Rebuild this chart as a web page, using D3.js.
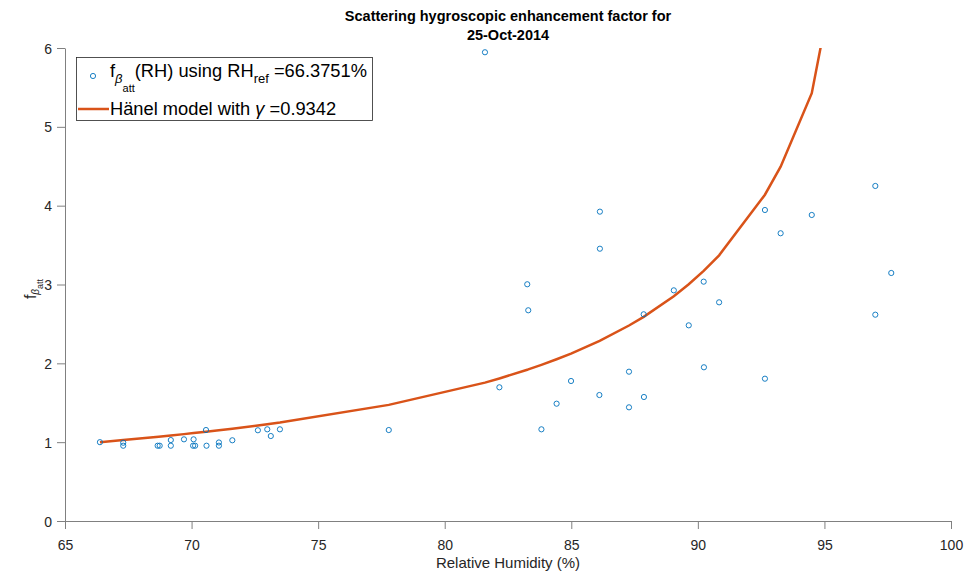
<!DOCTYPE html>
<html><head><meta charset="utf-8">
<script src="https://cdn.jsdelivr.net/npm/d3@7"></script>
<style>
body{margin:0;background:#fff;}
text{font-family:"Liberation Sans",Arial,sans-serif;}
</style></head>
<body><svg id="c" width="967" height="574"></svg>
<script>
// Measured data: relative humidity (%) and enhancement factor f_beta_att
const rh = [66.38, 67.30, 67.30, 68.66, 68.74, 69.18, 69.18, 69.70, 70.08, 70.06, 70.14, 70.57, 70.59, 71.08, 71.08, 71.61,
  72.62, 72.99, 73.13, 73.49, 77.79, 81.59, 82.16, 83.26, 83.30, 83.82, 84.42, 84.99, 86.13, 86.13, 86.11,
  87.28, 87.28, 87.86, 87.87, 89.05, 89.64, 90.23, 90.24, 90.84, 92.65, 92.65, 93.27, 94.50, 97.01, 97.01, 97.64];
const fb = [1.00, 0.993, 0.955, 0.955, 0.955, 1.027, 0.955, 1.036, 1.036, 0.955, 0.955, 1.154, 0.955, 0.996, 0.955, 1.024,
  1.151, 1.163, 1.078, 1.163, 1.154, 5.946, 1.696, 3.003, 2.673, 1.163, 1.488, 1.776, 3.924, 3.454, 1.598,
  1.894, 1.442, 2.622, 1.573, 2.926, 2.482, 3.036, 1.950, 2.774, 3.945, 1.805, 3.650, 3.882, 4.250, 2.617, 3.146];
// Hänel model curve (evaluated at the sorted measurement RH values)
const modelRH = [66.38, 67.30, 68.70, 69.18, 69.70, 70.08, 70.57, 71.08, 71.61, 72.62, 72.99, 73.13, 73.49, 77.79,
  81.59, 82.16, 83.26, 83.30, 83.82, 84.42, 84.99, 86.12, 87.28, 87.86, 89.05, 89.64, 90.23, 90.84, 92.65, 93.27,
  94.50, 97.01, 97.64];
const modelF = [1.000, 1.026, 1.069, 1.085, 1.102, 1.115, 1.132, 1.151, 1.171, 1.212, 1.227, 1.233, 1.249, 1.473,
  1.755, 1.808, 1.918, 1.923, 1.981, 2.052, 2.124, 2.285, 2.480, 2.590, 2.852, 3.003, 3.173, 3.370, 4.139, 4.494,
  5.427, 9.590, 11.96];
const xTicks = [65, 70, 75, 80, 85, 90, 95, 100];
const yTicks = [0, 1, 2, 3, 4, 5, 6];

const svg = d3.select("#c");
const L = 65, R = 951, T = 48, B = 521;
const x = d3.scaleLinear().domain([65, 100]).range([L, R]);
const y = d3.scaleLinear().domain([0, 6]).range([B, T]);
const axCol = "#262626";

svg.append("defs").append("clipPath").attr("id", "clip")
  .append("rect").attr("x", L).attr("y", T).attr("width", R - L).attr("height", B - T);

// axes
const xa = svg.append("g").attr("transform", `translate(0,${B})`)
  .call(d3.axisBottom(x).tickValues(xTicks).tickSize(8).tickSizeOuter(0).tickFormat(d3.format("d")));
const ya = svg.append("g").attr("transform", `translate(${L},0)`)
  .call(d3.axisLeft(y).tickValues(yTicks).tickSize(8).tickSizeOuter(0).tickFormat(d3.format("d")));
[xa, ya].forEach(g => {
  g.select(".domain").attr("stroke", "#808080").attr("stroke-width", 1);
  g.selectAll(".tick line").attr("stroke", "#808080");
  g.selectAll(".tick text").attr("fill", axCol).style("font-size", "14px").style("font-family", "Liberation Sans, Arial, sans-serif");
});
xa.selectAll(".tick text").attr("dy", "1.25em");
ya.selectAll(".tick text").attr("x", -13).attr("dy", "0.36em");

// model line
svg.append("path").datum(modelRH.map((r, i) => [r, modelF[i]]))
  .attr("clip-path", "url(#clip)")
  .attr("fill", "none").attr("stroke", "#D95319").attr("stroke-width", 2.5)
  .attr("d", d3.line().x(d => x(d[0])).y(d => y(d[1])));

// scatter
svg.append("g").selectAll("circle").data(rh.map((r, i) => [r, fb[i]])).join("circle")
  .attr("cx", d => x(d[0])).attr("cy", d => y(d[1])).attr("r", 2.6)
  .attr("fill", "none").attr("stroke", "#0072BD").attr("stroke-width", 0.9);

// title
const title = svg.append("text").attr("text-anchor", "middle").attr("font-weight", "bold")
  .style("font-size", "14.5px").attr("fill", "#000");
title.append("tspan").attr("x", (L + R) / 2).attr("y", 21).text("Scattering hygroscopic enhancement factor for");
title.append("tspan").attr("x", (L + R) / 2).attr("y", 40).text("25-Oct-2014");

// x label
svg.append("text").attr("x", (L + R) / 2).attr("y", 568).attr("text-anchor", "middle")
  .style("font-size", "15px").attr("fill", axCol).text("Relative Humidity (%)");

// y label
const yl = svg.append("text").attr("transform", "translate(36,289) rotate(-90)")
  .attr("text-anchor", "middle").style("font-size", "16px").attr("fill", axCol);
yl.append("tspan").text("f");
yl.append("tspan").attr("dy", 3).style("font-size", "10px").style("font-style", "italic").text("β");
yl.append("tspan").attr("dy", 4).style("font-size", "9px").text("att");

// legend
const lg = svg.append("g");
lg.append("rect").attr("x", 76.5).attr("y", 57.5).attr("width", 296).attr("height", 63)
  .attr("fill", "#fff").attr("stroke", "#262626").attr("stroke-width", 0.8);
lg.append("circle").attr("cx", 93).attr("cy", 76).attr("r", 2.6).attr("fill", "none")
  .attr("stroke", "#0072BD").attr("stroke-width", 0.9);
const t1 = lg.append("text").attr("x", 110).attr("y", 77).style("font-size", "18.3px").attr("fill", "#000");
t1.append("tspan").text("f");
t1.append("tspan").attr("dy", 6).style("font-size", "13px").style("font-style", "italic").text("β");
t1.append("tspan").attr("dy", 9).style("font-size", "11px").text("att");
t1.append("tspan").attr("dy", -15).text("(RH) using RH");
t1.append("tspan").attr("dy", 6).style("font-size", "13px").text("ref");
t1.append("tspan").attr("dy", -6).text(" =66.3751%");
lg.append("line").attr("x1", 78).attr("x2", 109).attr("y1", 109).attr("y2", 109)
  .attr("stroke", "#D95319").attr("stroke-width", 2.5);
const t2 = lg.append("text").attr("x", 110).attr("y", 115).style("font-size", "18.3px").attr("fill", "#000");
t2.append("tspan").text("Hänel model with ");
t2.append("tspan").style("font-style", "italic").text("γ");
t2.append("tspan").text(" =0.9342");
</script></body></html>
